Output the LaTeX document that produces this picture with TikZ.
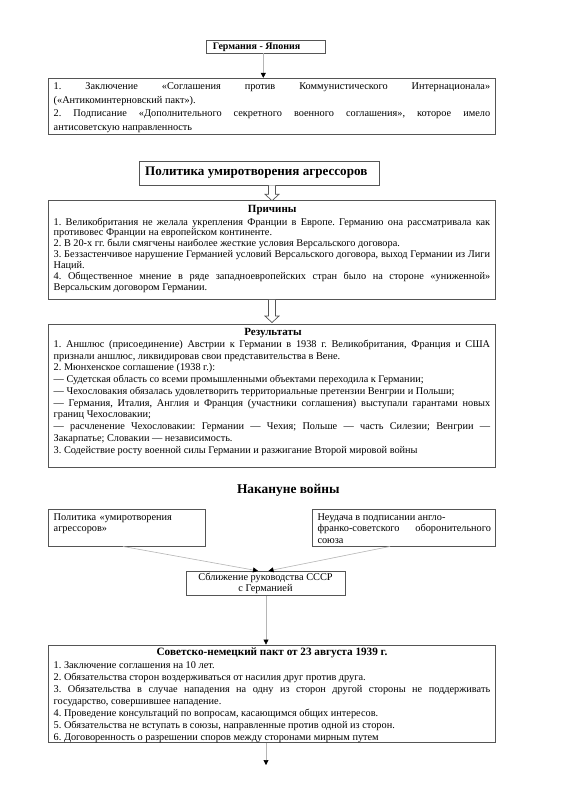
\documentclass[tikz,border=0pt]{standalone}
\usepackage{fontspec}
\setmainfont{Liberation Serif}
\usetikzlibrary{arrows.meta,fit,calc}
\definecolor{boxgray}{HTML}{555555}
\definecolor{linegray}{HTML}{B5B5B5}
\frenchspacing
\begin{document}
\begin{tikzpicture}[x=1pt,y=-1pt,
  boxst/.style={draw=boxgray,line width=0.9pt,inner sep=0pt,fill=white},
  body/.style={anchor=base west,inner sep=0pt,text width=436.5pt,align=justify},
  conn/.style={draw=linegray,line width=0.6pt,-{Triangle[length=5pt,width=5pt,color=black]}},
  hollow/.style={draw=boxgray,line width=0.7pt,fill=white,line join=miter},
  ttl/.style={inner sep=0pt,font=\bfseries\fontsize{11}{12}\selectfont},
  bodyfont/.style={font=\frenchspacing\fontsize{10.3}{#1}\selectfont},
]
\fill[white] (0,0) rectangle (565,800);
\useasboundingbox (0,0) rectangle (565,800);

% Germany - Japan
\node[boxst, fit={(206,40) (325,53)}] (b1) {};
\node[ttl, anchor=west, font=\bfseries\fontsize{10}{11}\selectfont] (t1) at (212.7,46.8) {Германия - Япония};
\node[boxst, fit={(48.3,78.3) (495.7,134)}] (b2) {};
\node[body, bodyfont=13.5] (x2) at (53.5,89.5) {1. Заключение «Соглашения против Коммунистического Интернационала»\linebreak («Антикоминтерновский пакт»).\\
2. Подписание «Дополнительного секретного военного соглашения», которое имело\linebreak антисоветскую направленность};

% appeasement
\node[boxst, fit={(139.3,161.7) (379,185)}] (b3) {};
\node[ttl, anchor=west, font=\bfseries\fontsize{13.1}{14}\selectfont] (t3) at (145,173) {Политика умиротворения агрессоров};

\node[boxst, fit={(48.3,200.7) (495.7,299.3)}] (b4) {};
\node[ttl] (t4) at (272.2,210.5) {Причины};
\node[body, bodyfont=10.9] (x4) at (53.5,225) {1. Великобритания не желала укрепления Франции в Европе. Германию она рассматривала как\linebreak противовес Франции на европейском континенте.\\
2. В 20-х гг. были смягчены наиболее жесткие условия Версальского договора.\\
3. Беззастенчивое нарушение Германией условий Версальского договора, выход Германии из Лиги\linebreak Наций.\\
4. Общественное мнение в ряде западноевропейских стран было на стороне «униженной»\linebreak Версальским договором Германии.};

\node[boxst, fit={(48.3,324) (495.7,467.3)}] (b5) {};
\node[ttl] (t5) at (273,333) {Результаты};
\node[body, bodyfont=11.78] (x5) at (53.5,347.3) {1. Аншлюс (присоединение) Австрии к Германии в 1938 г. Великобритания, Франция и США\linebreak признали аншлюс, ликвидировав свои представительства в Вене.\\
2. Мюнхенское соглашение (1938 г.):\\
— Судетская область со всеми промышленными объектами переходила к Германии;\\
— Чехословакия обязалась удовлетворить территориальные претензии Венгрии и Польши;\\
— Германия, Италия, Англия и Франция (участники соглашения) выступали гарантами новых\linebreak границ Чехословакии;\\
— расчленение Чехословакии: Германии — Чехия; Польше — часть Силезии; Венгрии —\linebreak Закарпатье; Словакии — независимость.\\
3. Содействие росту военной силы Германии и разжигание Второй мировой войны};

% hollow arrows
\coordinate (a1s) at (b3.south -| b4.north);
\draw[hollow] ($(a1s)+(-3.5,0)$) -- ($(b4.north)+(-3.5,-6)$) -- ($(b4.north)+(-7,-6)$) -- ($(b4.north)+(0,0.5)$) -- ($(b4.north)+(7,-6)$) -- ($(b4.north)+(3.5,-6)$) -- ($(a1s)+(3.5,0)$);
\coordinate (a2s) at (b4.south);
\draw[hollow] ($(a2s)+(-3.5,0)$) -- ($(b5.north)+(-3.5,-7.5)$) -- ($(b5.north)+(-7,-7.5)$) -- ($(b5.north)+(0,-1)$) -- ($(b5.north)+(7,-7.5)$) -- ($(b5.north)+(3.5,-7.5)$) -- ($(a2s)+(3.5,0)$);

% eve of war
\node[ttl, font=\bfseries\fontsize{13.4}{14}\selectfont] (h6) at (288.3,490.7) {Накануне войны};
\node[boxst, fit={(48.3,509.3) (205.7,546)}] (b6) {};
\node[anchor=base west, inner sep=0pt, text width=148pt, align=left, bodyfont=11.3] (x6) at (53.5,520) {Политика «умиротворения\\ агрессоров»};
\node[boxst, fit={(312.3,509.3) (495.7,546)}] (b7) {};
\node[anchor=base west, inner sep=0pt, text width=173.5pt, align=justify, bodyfont=11.7] (x7) at (317.3,520) {Неудача в подписании англо-\\ франко-советского оборонительного\linebreak союза};
\node[boxst, fit={(186,571.3) (345,595.7)}] (b8) {};
\node[inner sep=0pt, align=center, bodyfont=10.7] (x8) at (265.5,583.5) {Сближение руководства СССР\\ с Германией};

\node[boxst, fit={(48.3,645) (495.7,742.7)}] (b9) {};
\node[ttl, font=\bfseries\fontsize{11.2}{12}\selectfont] (t9) at (272,652.5) {Советско-немецкий пакт от 23 августа 1939 г.};
\node[body, bodyfont=12] (x9) at (53.5,668.3) {1. Заключение соглашения на 10 лет.\\
2. Обязательства сторон воздерживаться от насилия друг против друга.\\
3. Обязательства в случае нападения на одну из сторон другой стороны не поддерживать\linebreak государство, совершившее нападение.\\
4. Проведение консультаций по вопросам, касающимся общих интересов.\\
5. Обязательства не вступать в союзы, направленные против одной из сторон.\\
6. Договоренность о разрешении споров между сторонами мирным путем};

\coordinate (endpt) at (266,765);

% connectors
\draw[conn] ([xshift=-2.2pt]b1.south) -- ([xshift=-2.2pt]b1.south |- b2.north);
\draw[conn] ([xshift=-4pt]b6.south) -- ([xshift=-7.5pt]b8.north);
\draw[conn] ([xshift=-14pt]b7.south) -- ([xshift=3pt]b8.north);
\draw[conn] ([xshift=0.5pt]b8.south) -- ([xshift=0.5pt]b8.south |- b9.north);
\draw[conn] (b9.south -| endpt) -- (endpt);
\end{tikzpicture}
\end{document}
